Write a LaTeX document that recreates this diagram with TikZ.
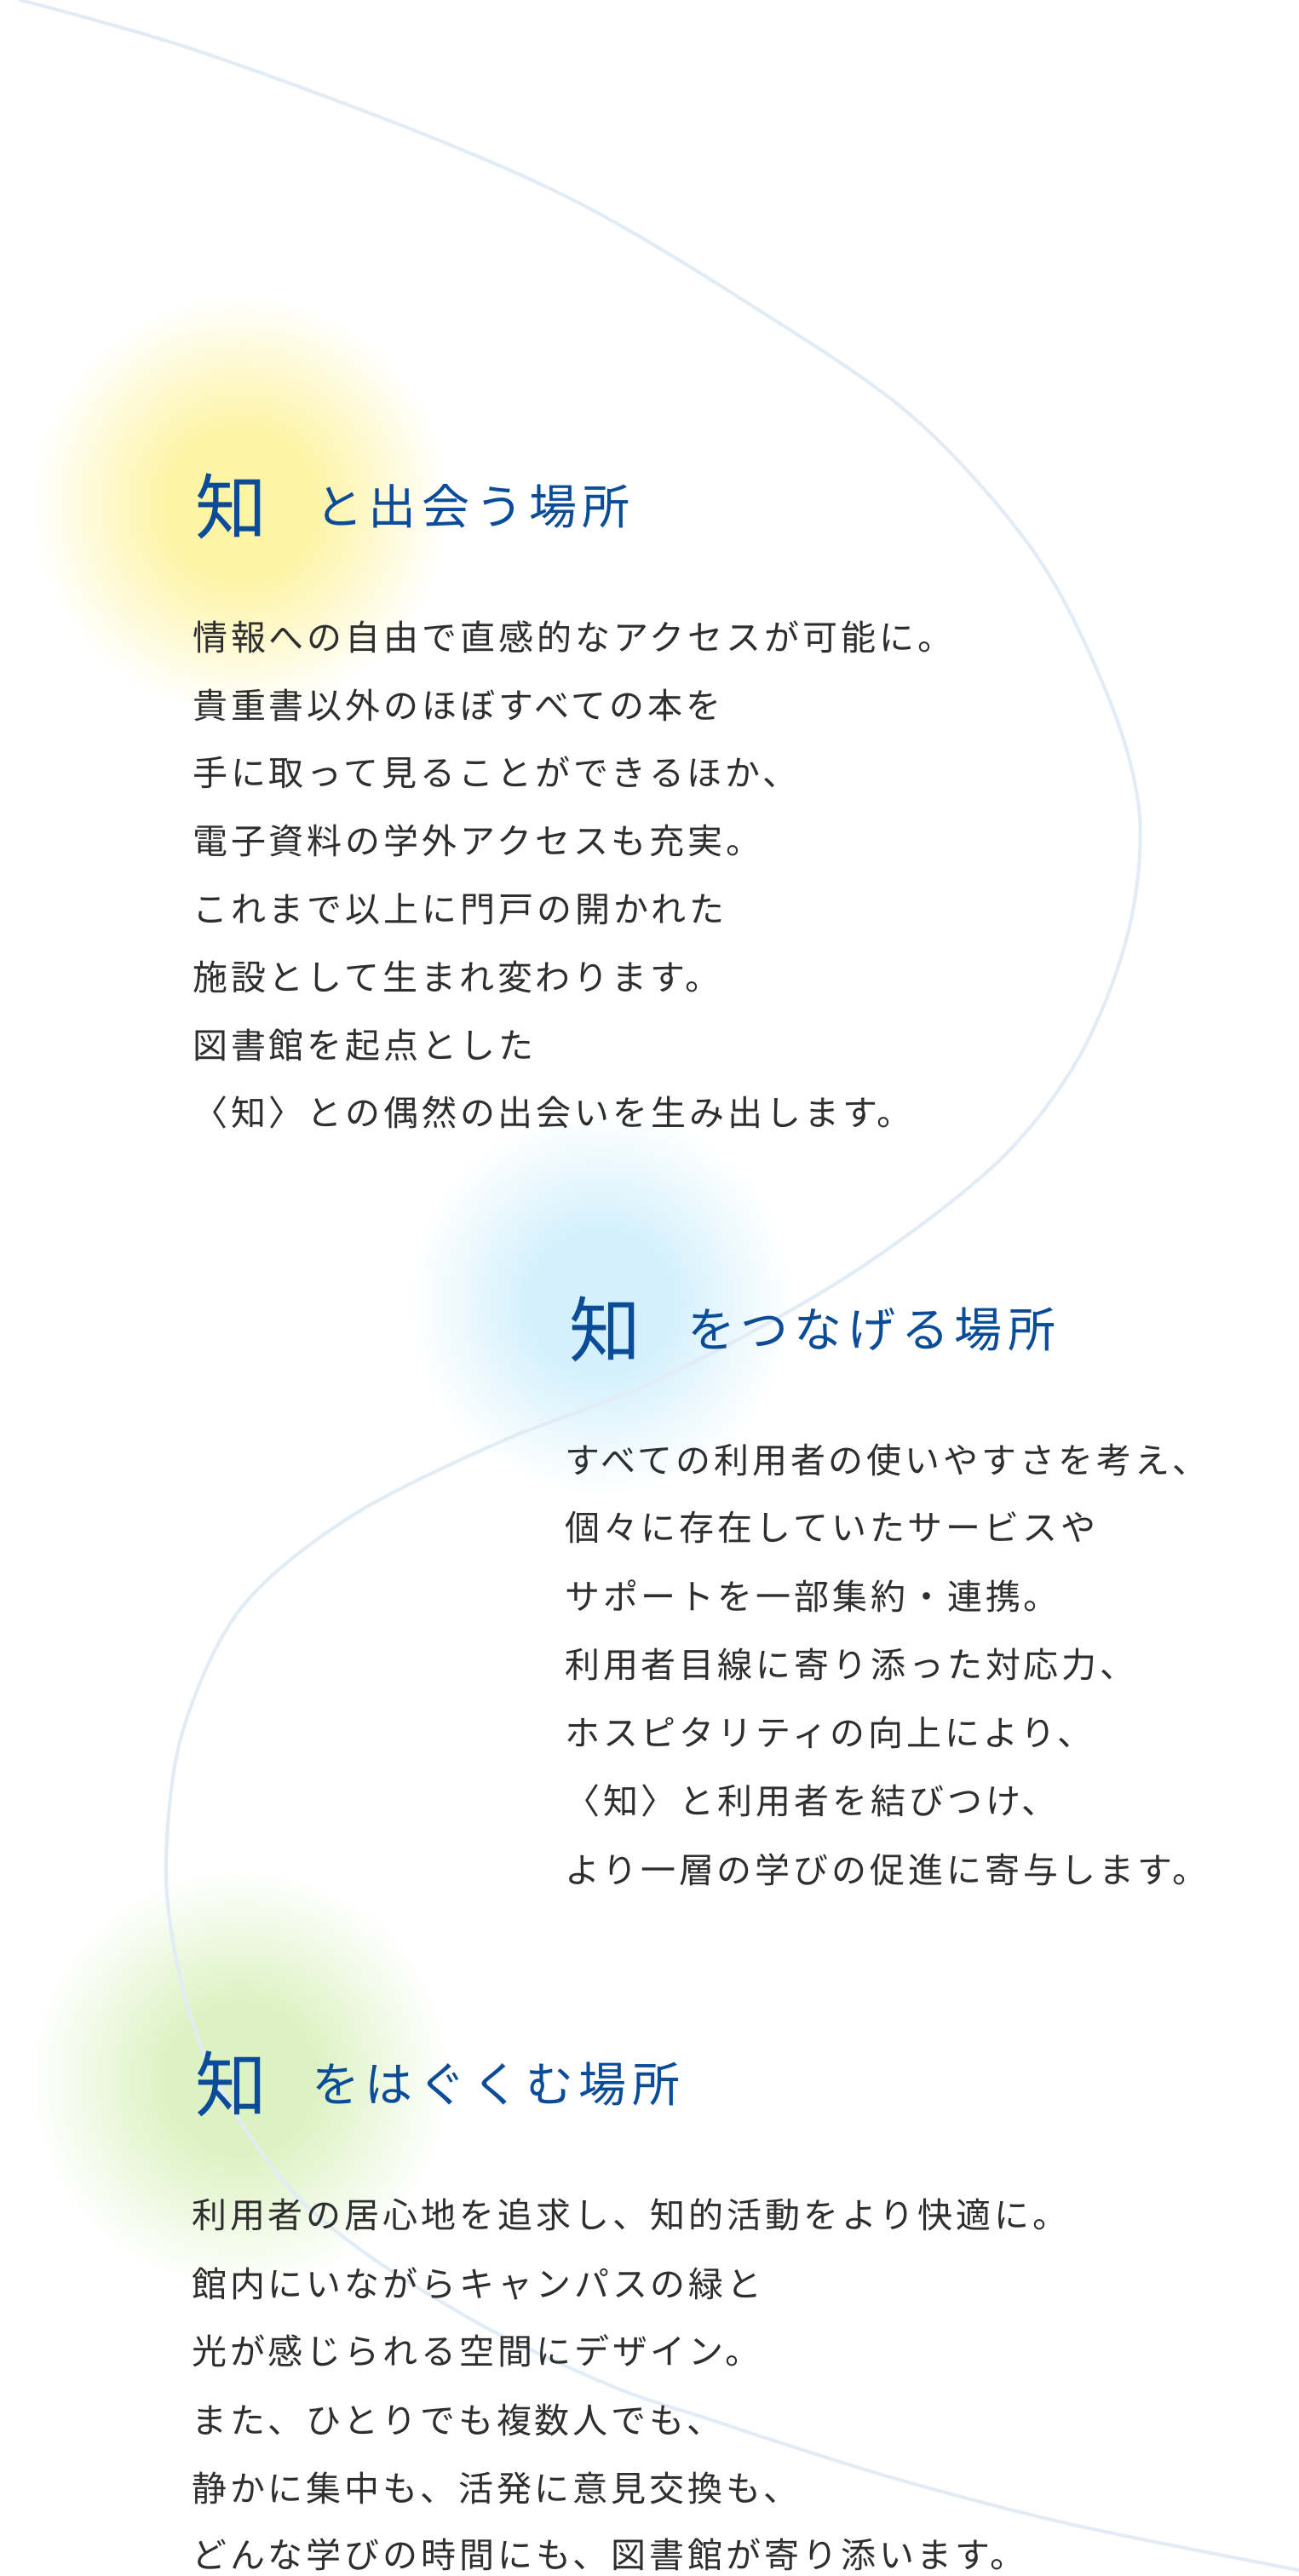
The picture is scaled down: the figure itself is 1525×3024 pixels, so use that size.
\documentclass[tikz,border=0pt]{standalone}
\usepackage{fontspec}
\newfontfamily\jpbody[LetterSpace=9.5]{Noto Sans CJK JP}
\newfontfamily\jphead[LetterSpace=12]{Noto Sans CJK JP}
\newfontfamily\jpbig{Noto Sans CJK JP}
\definecolor{bodytxt}{HTML}{2E2E2E}
\definecolor{headblue}{HTML}{0B4C98}
\definecolor{curvecol}{HTML}{E2ECF6}
\definecolor{gY}{HTML}{FDF4A6}
\definecolor{gB}{HTML}{D3F0FC}
\definecolor{gG}{HTML}{DDF2C3}
\pgfdeclareradialshading{glowY}{\pgfpoint{0bp}{0bp}}{color(0bp)=(gY); color(9bp)=(gY); color(17bp)=(gY!50!white); color(25bp)=(white); color(50bp)=(white)}
\pgfdeclareradialshading{glowB}{\pgfpoint{0bp}{0bp}}{color(0bp)=(gB); color(9bp)=(gB); color(17bp)=(gB!50!white); color(25bp)=(white); color(50bp)=(white)}
\pgfdeclareradialshading{glowG}{\pgfpoint{0bp}{0bp}}{color(0bp)=(gG); color(9bp)=(gG); color(17bp)=(gG!50!white); color(25bp)=(white); color(50bp)=(white)}
\tikzset{
  bodyline/.style={anchor=base west, inner sep=0pt, text=bodytxt, font=\jpbody\fontsize{41}{41}\selectfont},
  headbig/.style={anchor=base west, inner sep=0pt, text=headblue, font=\jpbig\fontsize{84}{84}\selectfont},
  headrest/.style={anchor=base west, inner sep=0pt, text=headblue, font=\jphead\fontsize{56}{56}\selectfont},
  flowline/.style={draw=curvecol, line width=4pt, line cap=round}
}
\begin{document}
\begin{tikzpicture}[x=1pt,y=-1pt]
\useasboundingbox (0,0) rectangle (1525,3024);
\clip (0,0) rectangle (1525,3024);
\fill[white] (0,0) rectangle (1525,3024);
% glows
\shade[shading=glowY] (282,592) circle (245);
\shade[shading=glowB] (705,1528) circle (225);
\shade[shading=glowG] (282,2440) circle (245);
% flowing curve
\draw[flowline] plot[smooth, tension=0.55] coordinates {(24,0) (224,57) (486,153) (681,239) (875,354) (1070,488) (1216,651) (1303,823) (1338,960) (1323,1100) (1265,1244) (1167,1368) (992,1500) (778,1617) (584,1694) (409,1782) (282,1889) (214,2034) (195,2180) (205,2290) (235,2400) (282,2490) (350,2580) (436,2650) (545,2718) (620,2757) (733,2807) (833,2840) (933,2873) (1070,2915) (1265,2965) (1540,3020)};
% section 1
\node[headbig] (h1a) at (229,626) {知};
\node[headrest] (h1b) at (370,615.3) {と出会う場所};
\node[bodyline] (s1l1) at (226,763.6) {情報への自由で直感的なアクセスが可能に。};
\node[bodyline] (s1l2) at (226,843.6) {貴重書以外のほぼすべての本を};
\node[bodyline] (s1l3) at (226,922.6) {手に取って見ることができるほか、};
\node[bodyline] (s1l4) at (226,1002.6) {電子資料の学外アクセスも充実。};
\node[bodyline] (s1l5) at (226,1082.6) {これまで以上に門戸の開かれた};
\node[bodyline] (s1l6) at (226,1162.6) {施設として生まれ変わります。};
\node[bodyline] (s1l7) at (226,1242.6) {図書館を起点とした};
\node[bodyline] (s1l8) at (226,1321.6) {〈知〉との偶然の出会いを生み出します。};
% section 2
\node[headbig] (h2a) at (668,1592) {知};
\node[headrest] (h2b) at (807,1581.3) {をつなげる場所};
\node[bodyline] (s2l1) at (663,1729.6) {すべての利用者の使いやすさを考え、};
\node[bodyline] (s2l2) at (663,1808.6) {個々に存在していたサービスや};
\node[bodyline] (s2l3) at (663,1889.6) {サポートを一部集約・連携。};
\node[bodyline] (s2l4) at (663,1969.6) {利用者目線に寄り添った対応力、};
\node[bodyline] (s2l5) at (663,2049.6) {ホスピタリティの向上により、};
\node[bodyline] (s2l6) at (663,2129.6) {〈知〉と利用者を結びつけ、};
\node[bodyline] (s2l7) at (663,2210.6) {より一層の学びの促進に寄与します。};
% section 3
\node[headbig] (h3a) at (229,2478) {知};
\node[headrest] (h3b) at (366,2467.3) {をはぐくむ場所};
\node[bodyline] (s3l1) at (225,2615.6) {利用者の居心地を追求し、知的活動をより快適に。};
\node[bodyline] (s3l2) at (225,2696.6) {館内にいながらキャンパスの緑と};
\node[bodyline] (s3l3) at (225,2775.6) {光が感じられる空間にデザイン。};
\node[bodyline] (s3l4) at (225,2856.6) {また、ひとりでも複数人でも、};
\node[bodyline] (s3l5) at (225,2936.6) {静かに集中も、活発に意見交換も、};
\node[bodyline] (s3l6) at (225,3014.6) {どんな学びの時間にも、図書館が寄り添います。};
\end{tikzpicture}
\end{document}
